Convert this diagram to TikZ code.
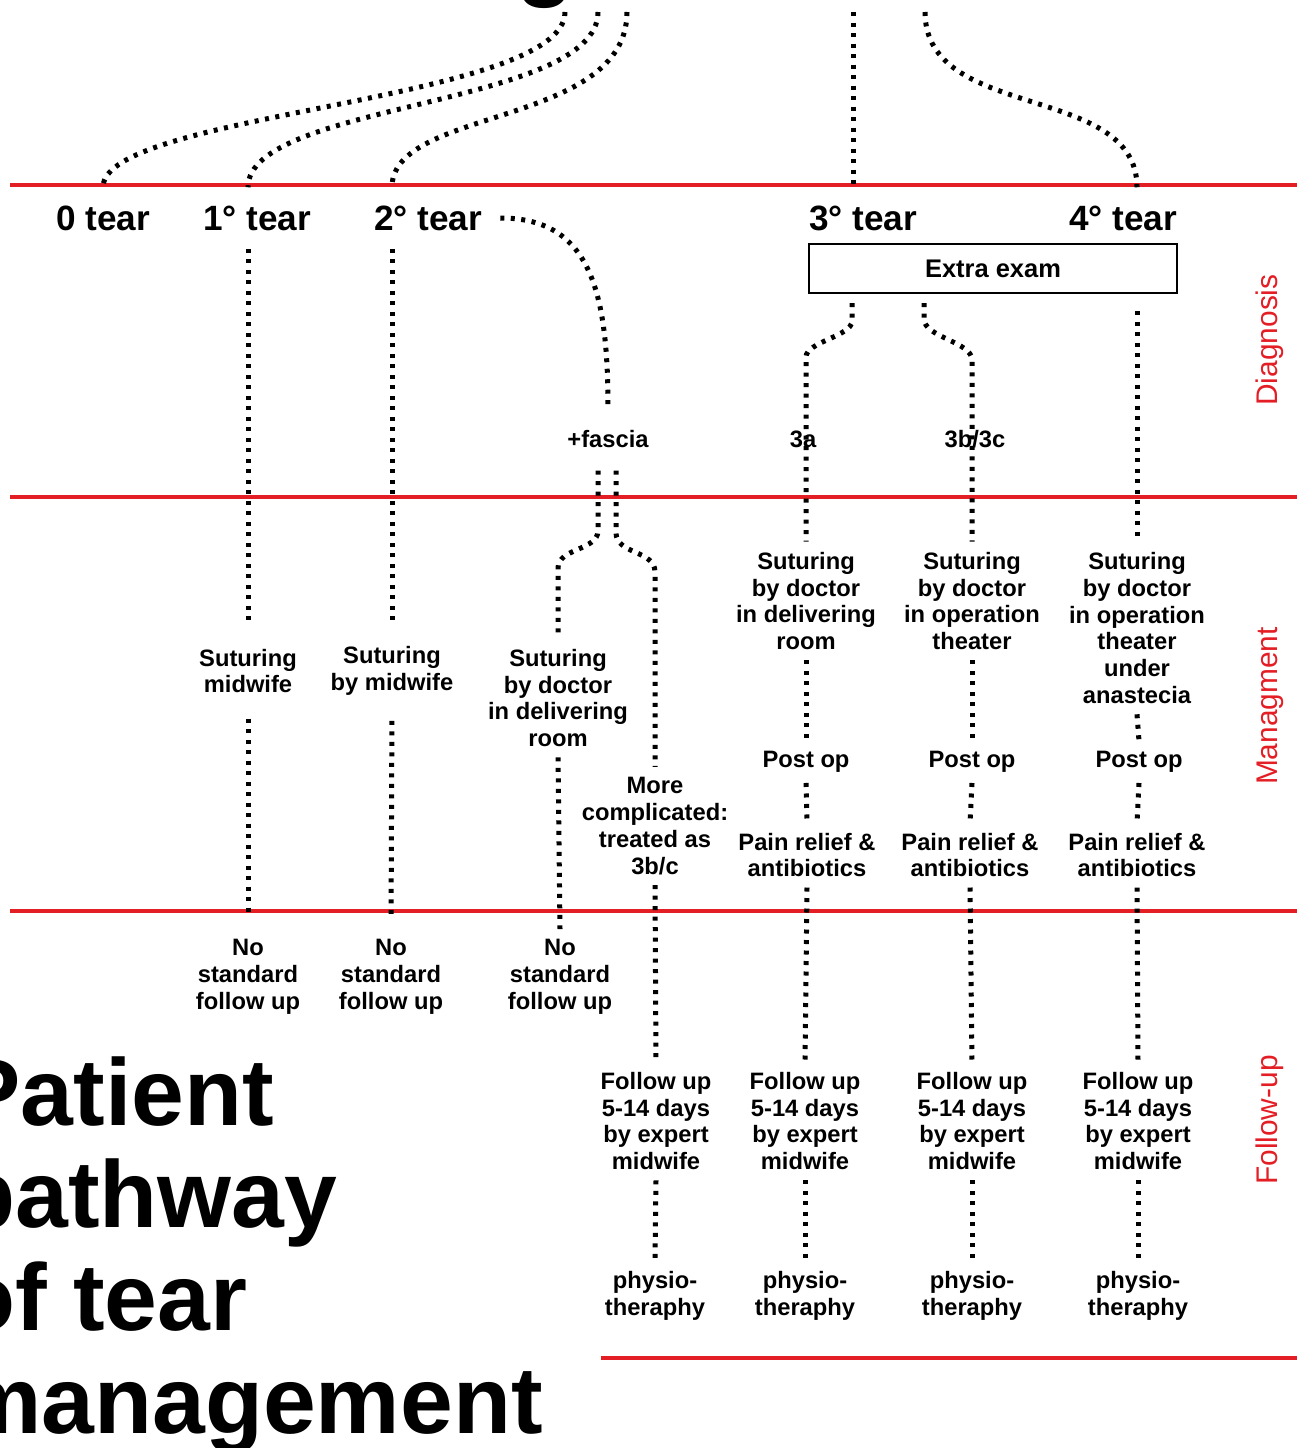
\documentclass[tikz,border=0pt]{standalone}
\usepackage{fontspec}
\setmainfont{Liberation Sans}
\usepackage{xcolor}
\usepackage{tikz}
\usetikzlibrary{calc}
\definecolor{tearred}{RGB}{228,30,37}

\begin{document}
\begin{tikzpicture}[
    x=0.2mm, y=-0.2mm,
    dotline/.style={line width=1mm, dash pattern=on 0.8mm off 1.3mm},
    redline/.style={draw=tearred, line width=0.8mm},
    tearlabel/.style={inner sep=3.6mm, font=\fontsize{20}{24}\selectfont\bfseries},
    stage/.style={align=center, inner sep=2mm, font=\fontsize{13.5}{15.3}\selectfont\bfseries},
    exambox/.style={draw, line width=0.4mm, minimum width=73.6mm, minimum height=9.8mm, font=\fontsize{14.5}{17}\selectfont\bfseries},
    sidelabel/.style={rotate=90, text=tearred, font=\fontsize{17}{20}\selectfont},
    bigtitle/.style={align=left, anchor=north west, inner sep=0pt, font=\fontsize{54}{58.4}\selectfont\bfseries}
]
\useasboundingbox (0,0) rectangle (1297,1448);

% Section lines
\draw[redline] (10,185) -- (1297,185);
\draw[redline] (10,497) -- (1297,497);
\draw[redline] (10,911) -- (1297,911);
\draw[redline] (601,1358) -- (1297,1358);

% Section names
\node[sidelabel] (diag) at (1270,340) {Diagnosis};
\node[sidelabel] (mgmt) at (1270,706) {Managment};
\node[sidelabel] (folw) at (1270,1120) {Follow-up};

% Title, cut by the page edge
\node[bigtitle, anchor=base] (headtail) at (545,-12) {g};
\node[bigtitle] (title) at (-43,1056) {Patient\\pathway\\of tear\\management};

% Loose ends coming from above
\coordinate (src0) at (565,12);
\coordinate (src1) at (598,12);
\coordinate (src2) at (627,12);
\coordinate (src3) at (853,12);
\coordinate (src4) at (925,12);

% Tear grades
\node[tearlabel] (t0) at (103,218) {0 tear};
\node[tearlabel] (t1) at (257,218) {1° tear};
\node[tearlabel] (t2) at (428,218) {2° tear};
\node[tearlabel] (t3) at (863,218) {3° tear};
\node[tearlabel] (t4) at (1123,218) {4° tear};
\node[exambox] (exam) at (993,268.5) {Extra exam};

% Sub grades
\node[stage, inner sep=4.5mm] (fascia) at (608,439) {+fascia};
\node[stage] (g3a) at (803,439) {3a};
\node[stage] (g3bc) at (975,439) {3b/3c};

% Management
\node[stage] (s1) at (248,671) {Suturing\\midwife};
\node[stage] (s2) at (392,671) {Suturing\\by midwife};
\node[stage] (s3) at (558,698) {Suturing\\by doctor\\in delivering\\room};
\node[stage] (more) at (655,826) {More\\complicated:\\treated as\\3b/c};
\node[stage] (s4) at (806,601) {Suturing\\by doctor\\in delivering\\room};
\node[stage] (s5) at (972,601) {Suturing\\by doctor\\in operation\\theater};
\node[stage] (s6) at (1137,628) {Suturing\\by doctor\\in operation\\theater\\under\\anastecia};
\node[stage] (po4) at (806,762) {Post op};
\node[stage] (po5) at (972,762) {Post op};
\node[stage] (po6) at (1139,762) {Post op};
\node[stage] (pr4) at (807,855) {Pain relief \&\\antibiotics};
\node[stage] (pr5) at (970,855) {Pain relief \&\\antibiotics};
\node[stage] (pr6) at (1137,855) {Pain relief \&\\antibiotics};

% Follow-up
\node[stage] (n1) at (248,977) {No\\standard\\follow up};
\node[stage] (n2) at (391,977) {No\\standard\\follow up};
\node[stage] (n3) at (560,977) {No\\standard\\follow up};
\node[stage] (f0) at (656,1121) {Follow up\\5-14 days\\by expert\\midwife};
\node[stage] (f4) at (805,1121) {Follow up\\5-14 days\\by expert\\midwife};
\node[stage] (f5) at (972,1121) {Follow up\\5-14 days\\by expert\\midwife};
\node[stage] (f6) at (1138,1121) {Follow up\\5-14 days\\by expert\\midwife};
\node[stage] (p0) at (655,1296) {physio-\\theraphy};
\node[stage] (p4) at (805,1296) {physio-\\theraphy};
\node[stage] (p5) at (972,1296) {physio-\\theraphy};
\node[stage] (p6) at (1138,1296) {physio-\\theraphy};

% Branches into the grades
\draw[dotline] (src0) .. controls +(0,90) and +(0,-75) .. (t0.north);
\draw[dotline] (src1) .. controls +(0,95) and +(0,-85) .. (t1.north -| s1);
\draw[dotline] (src2) .. controls +(0,115) and +(0,-80) .. (t2.north -| s2);
\draw[dotline] (src3) -- (src3 |- t3.north);
\draw[dotline] (src4) .. controls +(0,110) and +(0,-105) .. (t4.north -| s6);

% 1 and 2 degree
\draw[dotline, shorten >=2.4mm] (t1.south -| s1) -- (s1.north);
\draw[dotline, shorten <=3mm, shorten >=2.4mm] (s1.south) -- (n1.north);
\draw[dotline, shorten >=2.4mm] (t2.south -| s2) -- (s2.north);
\draw[dotline, shorten <=3mm, shorten >=2.4mm] (s2.south) -- (n2.north);
\draw[dotline] (t2.east) .. controls +(88,0) and +(0,-120) .. (fascia.north);

% +fascia splits
\draw[dotline] ($(fascia.south)+(-10,0)$) -- ++(0,60) .. controls +(0,20) and +(0,-20) .. (s3.north |- 0,568) -- (s3.north);
\draw[dotline] ($(fascia.south)+(8,0)$) -- ++(0,62) .. controls +(0,22) and +(0,-22) .. (more.north |- 0,572) -- (more.north);
\draw[dotline] (s3.south) -- (n3.north);
\draw[dotline] (more.south) -- (f0.north);
\draw[dotline] (f0.south) -- (p0.north);

% 3 and 4 degree after the extra exam
\draw[dotline] ($(exam.south west)+(44,9)$) -- ++(0,18) .. controls +(0,15) and +(0,-15) .. (s4.north |- 0,357) -- (s4.north);
\draw[dotline] ($(exam.south west)+(116,9)$) -- ++(0,16) .. controls +(0,18) and +(0,-18) .. (s5.north |- 0,360) -- (s5.north);
\draw[dotline, shorten <=3.4mm] (exam.south -| s6) -- (s6.north);

\draw[dotline] (s4.south) -- (po4.north);
\draw[dotline] (po4.south) -- (pr4.north);
\draw[dotline] (pr4.south) -- (f4.north);
\draw[dotline] (f4.south) -- (p4.north);

\draw[dotline] (s5.south) -- (po5.north);
\draw[dotline] (po5.south) -- (pr5.north);
\draw[dotline] (pr5.south) -- (f5.north);
\draw[dotline] (f5.south) -- (p5.north);

\draw[dotline] (s6.south) -- (po6.north);
\draw[dotline] (po6.south) -- (pr6.north);
\draw[dotline] (pr6.south) -- (f6.north);
\draw[dotline] (f6.south) -- (p6.north);

\end{tikzpicture}
\end{document}
